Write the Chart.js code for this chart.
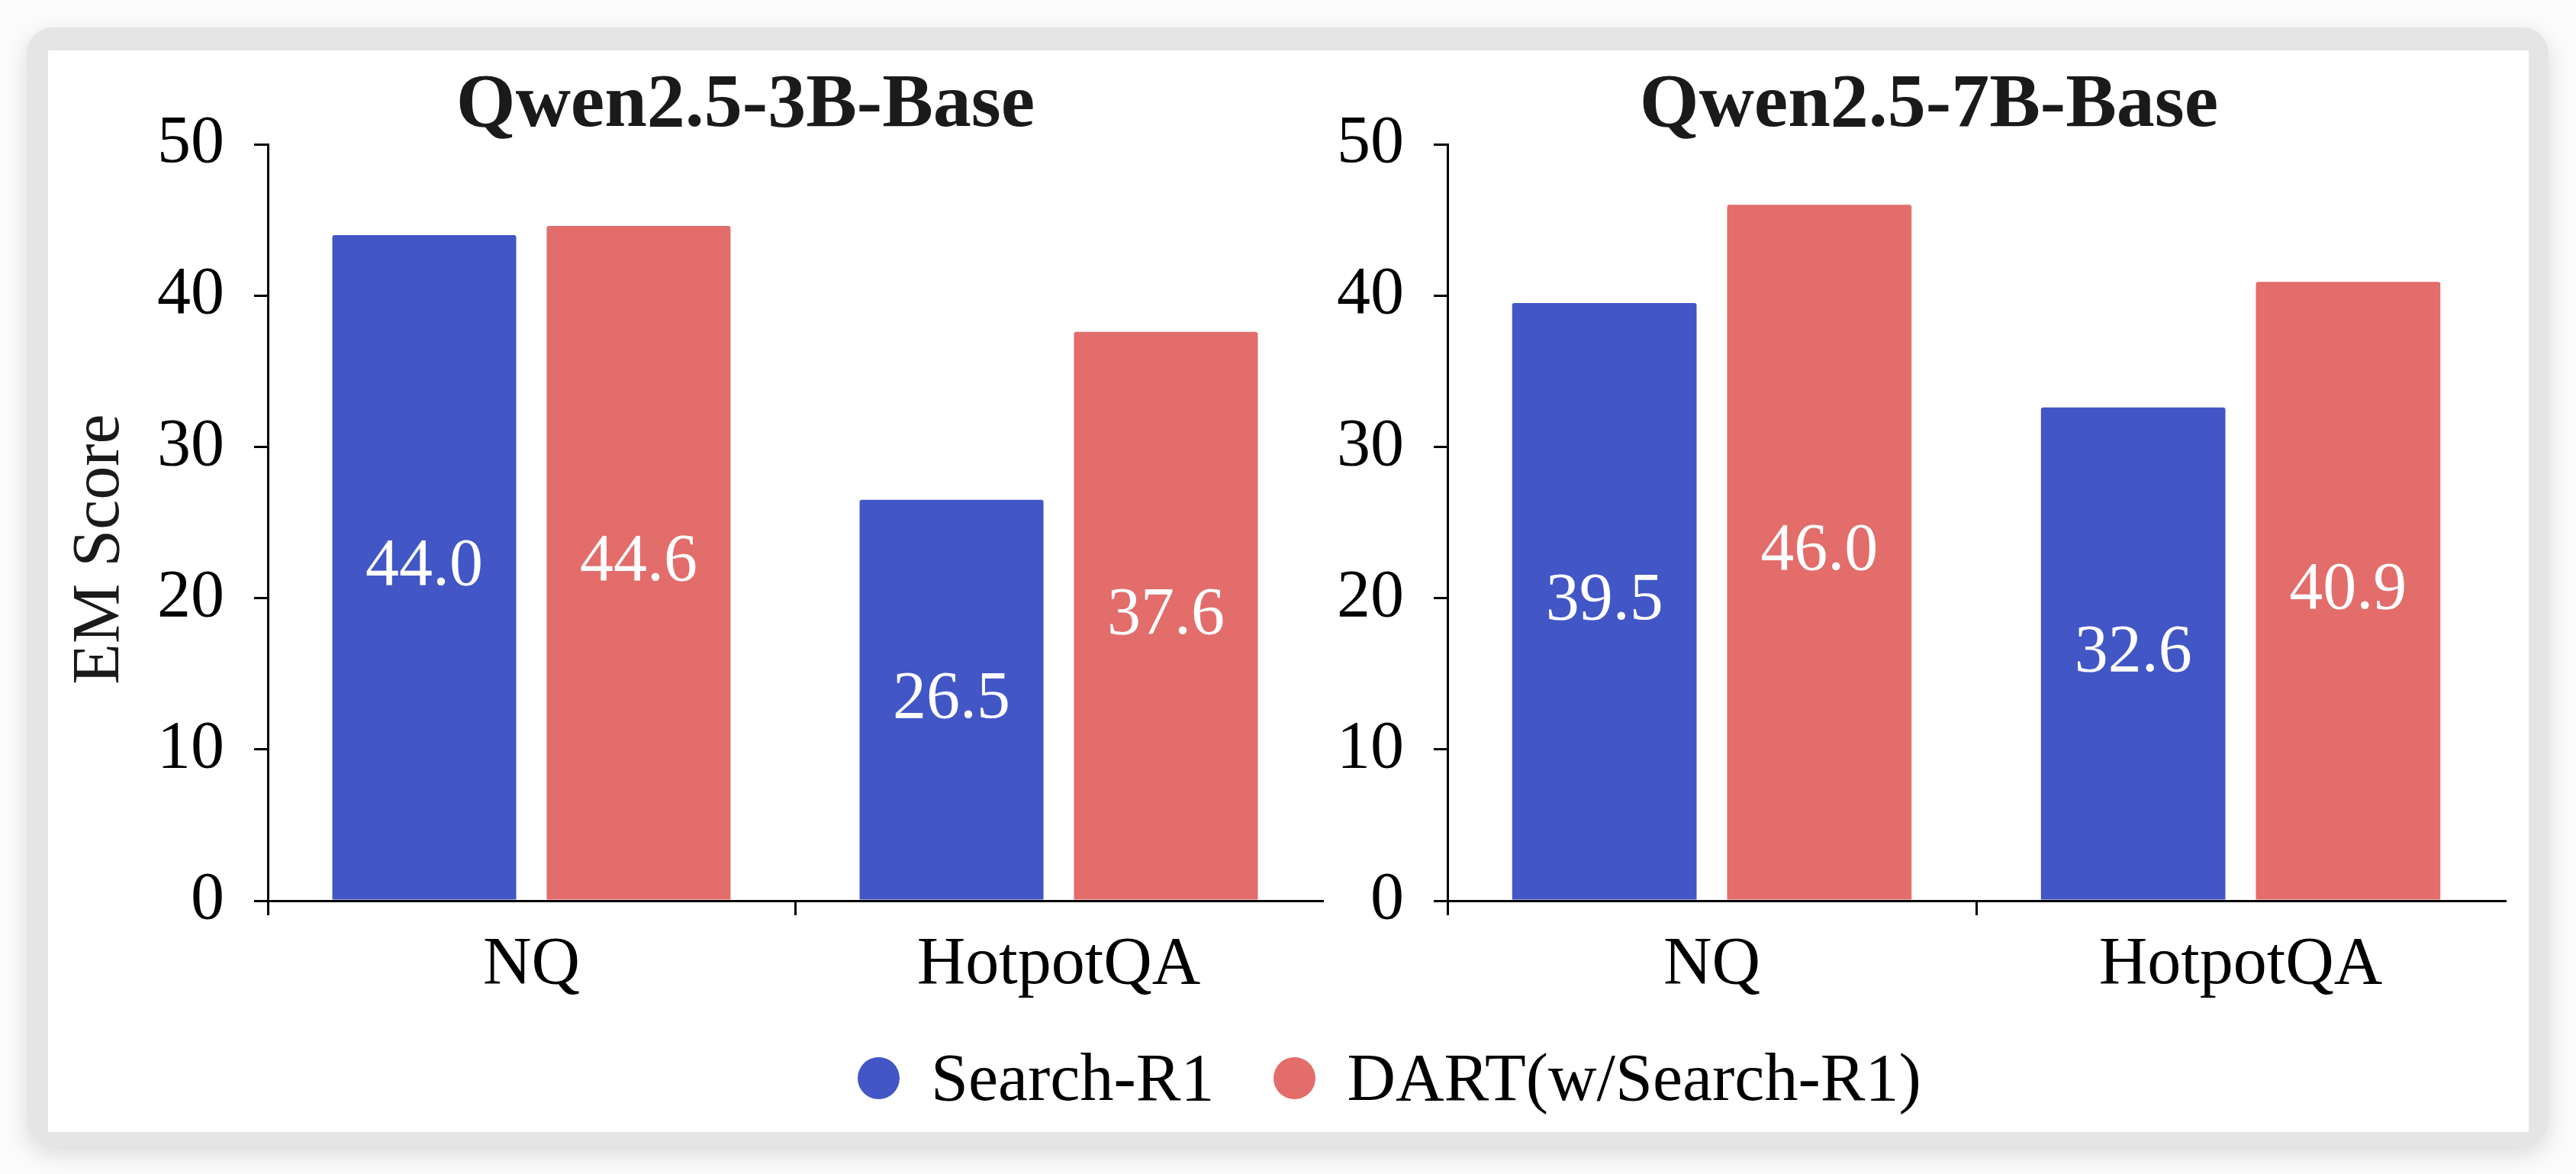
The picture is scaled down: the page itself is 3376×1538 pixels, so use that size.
<!DOCTYPE html>
<html>
<head>
<meta charset="utf-8">
<script src="https://cdn.jsdelivr.net/npm/chart.js@4.4.1/dist/chart.umd.min.js"></script>
<style>
  html, body { margin: 0; padding: 0; width: 3376px; height: 1538px; overflow: hidden; background: #fbfbfb; }
  .frame { position: absolute; left: 35px; top: 36px; width: 3305px; height: 1466px; background: #e5e5e5;
           border-radius: 34px; box-shadow: 0 10px 30px rgba(0,0,0,0.13); }
  .card { position: absolute; left: 63px; top: 66px; width: 3251px; height: 1417px; background: #fff; }
  canvas { position: absolute; }
  #legend { position: absolute; left: 1124px; top: 1368px; display: flex; align-items: center;
            font: 88px/88px 'Liberation Serif', 'Times New Roman', serif; color: #000; }
  #legend .dot { width: 55px; height: 55px; border-radius: 50%; margin-right: 41px; }
  #legend .item { display: flex; align-items: center; }
  #legend .item + .item { margin-left: 78px; }
</style>
</head>
<body>
<div class="frame"></div>
<div class="card"></div>
<canvas id="chart3b" width="1828" height="1250" style="left:63px; top:66px;"></canvas>
<canvas id="chart7b" width="1562" height="1250" style="left:1747px; top:66px;"></canvas>
<div id="legend"></div>

<script>
// data
const categories = ['NQ', 'HotpotQA'];
const seriesNames = ['Search-R1', 'DART(w/Search-R1)'];
const seriesColors = ['#4256c5', '#e26d6b'];
const searchR1_3B = [44.0, 26.5];
const dart_3B = [44.6, 37.6];
const searchR1_7B = [39.5, 32.6];
const dart_7B = [46.0, 40.9];
const yMin = 0, yMax = 50, yStep = 10;

const serif = "'Liberation Serif', 'Times New Roman', serif";

// white value labels in the middle of each bar
const barLabels = {
  id: 'barLabels',
  afterDatasetsDraw(chart) {
    const ctx = chart.ctx;
    ctx.save();
    ctx.fillStyle = '#fff';
    ctx.font = '88px ' + serif;
    ctx.textAlign = 'center';
    ctx.textBaseline = 'middle';
    chart.data.datasets.forEach((ds, i) => {
      chart.getDatasetMeta(i).data.forEach((bar, j) => {
        ctx.fillText(ds.data[j].toFixed(1), bar.x, (bar.y + bar.base) / 2);
      });
    });
    ctx.restore();
  }
};

// rotated y title, sits a bit below the axis middle like the original
const yTitle = {
  id: 'yTitle',
  afterDraw(chart, args, opts) {
    if (!opts.text) return;
    const { ctx, chartArea } = chart;
    ctx.save();
    ctx.translate(chartArea.left - 219, (chartArea.top + chartArea.bottom) / 2 + 35);
    ctx.rotate(-Math.PI / 2);
    ctx.fillStyle = '#1a1a1a';
    ctx.font = '88px ' + serif;
    ctx.textAlign = 'center';
    ctx.textBaseline = 'middle';
    ctx.fillText(opts.text, 0, 0);
    ctx.restore();
  }
};

function makeChart(id, title, blue, red, yWidth, rightSpace, yLabel) {
  return new Chart(document.getElementById(id), {
    type: 'bar',
    data: {
      labels: categories,
      datasets: [
        { label: seriesNames[0], data: blue, backgroundColor: seriesColors[0] },
        { label: seriesNames[1], data: red, backgroundColor: seriesColors[1] }
      ]
    },
    options: {
      responsive: false,
      animation: false,
      devicePixelRatio: 1,
      layout: { padding: 0 },
      datasets: {
        bar: { categoryPercentage: 0.813, barPercentage: 0.858, borderRadius: 3, borderSkipped: 'bottom' }
      },
      plugins: {
        legend: { display: false },
        tooltip: { enabled: false },
        title: {
          display: true,
          text: title,
          color: '#1a1a1a',
          font: { family: serif, size: 100, weight: 'bold', lineHeight: 1 },
          padding: { top: 23, bottom: 0 }
        },
        yTitle: { text: yLabel }
      },
      scales: {
        x: {
          grid: {
            offset: true,
            drawOnChartArea: false,
            drawTicks: true,
            tickLength: 19,
            lineWidth: c => c.tick ? 3 : 0,
            color: c => c.tick ? '#000' : 'rgba(0,0,0,0)'
          },
          border: { display: true, color: '#000', width: 3 },
          ticks: { color: '#000', padding: 13, font: { family: serif, size: 88 } },
          afterFit: s => { s.height = 136; }
        },
        y: {
          min: yMin,
          max: yMax,
          ticks: { stepSize: yStep, color: '#000', padding: 39, font: { family: serif, size: 88 } },
          grid: { drawOnChartArea: false, drawTicks: true, tickLength: 18, lineWidth: 3, color: '#000' },
          border: { display: true, color: '#000', width: 3 },
          afterFit: s => { s.width = yWidth; }
        },
        // empty right-hand space so the title centres like the original
        space: {
          type: 'linear',
          position: 'right',
          grid: { display: false },
          border: { display: false },
          ticks: { display: false },
          afterFit: s => { s.width = rightSpace; }
        }
      }
    },
    plugins: [barLabels, yTitle]
  });
}

makeChart('chart3b', 'Qwen2.5-3B-Base', searchR1_3B, dart_3B, 288, 158, 'EM Score');
makeChart('chart7b', 'Qwen2.5-7B-Base', searchR1_7B, dart_7B, 150, 26, '');

// shared legend
const legend = document.getElementById('legend');
seriesNames.forEach((name, i) => {
  const item = document.createElement('div');
  item.className = 'item';
  const dot = document.createElement('span');
  dot.className = 'dot';
  dot.style.background = seriesColors[i];
  const txt = document.createElement('span');
  txt.textContent = name;
  item.appendChild(dot);
  item.appendChild(txt);
  legend.appendChild(item);
});
</script>
</body>
</html>
